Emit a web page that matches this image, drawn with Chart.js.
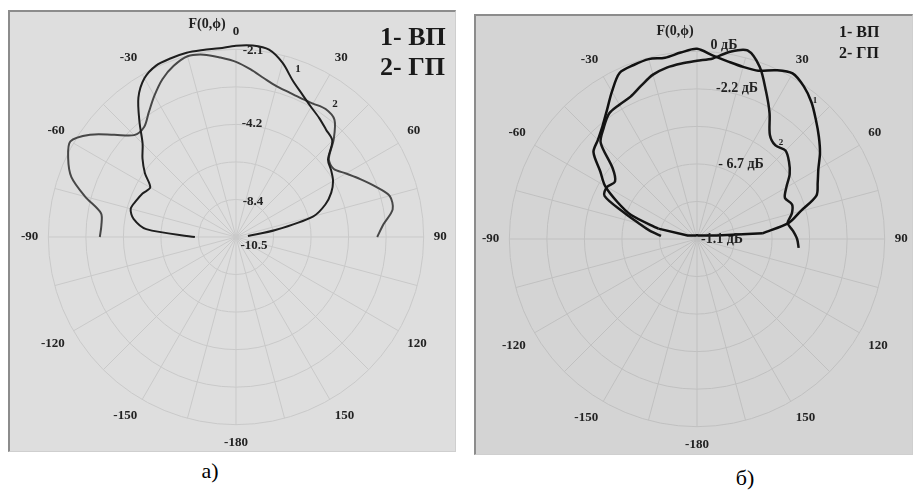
<!DOCTYPE html>
<html>
<head>
<meta charset="utf-8">
<script src="https://cdn.jsdelivr.net/npm/chart.js@4.4.1/dist/chart.umd.min.js"></script>
<style>
  body { margin: 0; width: 913px; height: 492px; background: #fff; position: relative; overflow: hidden; font-family: 'Liberation Serif', serif; }
  .panel { position: absolute; box-sizing: border-box; border-top: 2px solid #8c8c8c; border-left: 2px solid #8c8c8c; border-right: 1px solid #cfcfcf; border-bottom: 1px solid #cfcfcf; }
  #panelA { left: 8px; top: 10px; width: 448px; height: 442px; background: #dedede; }
  #panelB { left: 474px; top: 14px; width: 439px; height: 441px; background: #d4d4d4; }
  .box { position: absolute; width: 430px; height: 430px; }
  #boxA { left: 19px; top: 23px; }
  #boxB { left: 480px; top: 25px; }
  .t { position: absolute; transform: translate(-50%, -50%); white-space: nowrap; font-weight: bold; color: #222; font-size: 13px; line-height: 1; }
  .lg { position: absolute; transform: translateY(-50%); white-space: nowrap; font-weight: bold; color: #1a1a1a; line-height: 1; }
  .cap { position: absolute; transform: translate(-50%, -50%); font-size: 22px; color: #000; line-height: 1; }
</style>
</head>
<body>
<div class="panel" id="panelA"></div>
<div class="panel" id="panelB"></div>
<div class="box" id="boxA"><canvas id="chartA"></canvas></div>
<div class="box" id="boxB"><canvas id="chartB"></canvas></div>

<span class="t" style="left:207px;top:24px;font-size:14px">F(0,ϕ)</span>
<span class="t" style="left:253px;top:49px">-2.1</span>
<span class="t" style="left:252px;top:122px">-4.2</span>
<span class="t" style="left:253px;top:200px">-8.4</span>
<span class="t" style="left:254px;top:244px">-10.5</span>
<span class="t" style="left:298px;top:68px;font-size:11px">1</span>
<span class="t" style="left:335px;top:103px;font-size:11px">2</span>
<span class="lg" style="left:380px;top:37px;font-size:26px">1- ВП</span>
<span class="lg" style="left:380px;top:67px;font-size:26px">2- ГП</span>

<span class="t" style="left:675px;top:31px;font-size:14px">F(0,ϕ)</span>
<span class="t" style="left:724px;top:45px;font-size:14px">0 дБ</span>
<span class="t" style="left:737px;top:88px;font-size:14px">-2.2 дБ</span>
<span class="t" style="left:741px;top:164px;font-size:14px">- 6.7 дБ</span>
<span class="t" style="left:722px;top:239px;font-size:14px">-1.1 дБ</span>
<span class="t" style="left:815px;top:100px;font-size:9px">1</span>
<span class="t" style="left:781px;top:142px;font-size:9px">2</span>
<span class="lg" style="left:839px;top:32px;font-size:16px">1- ВП</span>
<span class="lg" style="left:839px;top:53px;font-size:16px">2- ГП</span>

<span class="cap" style="left:210px;top:471px">а)</span>
<span class="cap" style="left:745px;top:478px">б)</span>

<script>
const step = 5;
const rMin = -10.5;
const rMax = 0;
const rStep = 2.1;

// values in dB, one every 5 degrees, clockwise from the start angle
const a1Start = -90;
const a1 = [-8.20, -5.46, -4.68, -4.40, -4.56, -4.73, -4.96, -4.28, -3.67, -3.11,
  -2.10, -0.98, -0.25, 0.08, 0.14, 0.17, 0.12, 0.10, 0.20, 0.25,
  0.14, -0.42, -1.20, -1.71, -2.10, -2.38, -2.66, -2.88, -3.78, -4.00,
  -4.23, -4.62, -5.18, -6.02, -8.26, -9.83];
const a2Start = -90;
const a2 = [-2.88, -2.94, -2.83, -1.76, -0.70, -0.14, 0.20, -0.53, -1.60, -2.44,
  -2.49, -1.99, -1.37, -0.76, -0.31, -0.03, -0.14, -0.42, -0.70, -1.09,
  -1.48, -1.76, -1.88, -1.93, -1.88, -1.76, -1.93, -2.77, -3.72, -3.84,
  -3.39, -2.83, -2.21, -1.60, -1.60, -2.21, -2.60];

const b1Start = -75;
const b1 = [-8.26, -6.58, -5.57, -4.56, -3.89, -2.94, -2.66, -2.27, -1.71, -0.98,
  -0.25, -0.14, -0.08, -0.20, -0.03, 0.14, -0.20, -0.42, -0.53, -0.48,
  -0.08, 0.20, -0.08, -0.53, -1.09, -1.60, -2.10, -2.66, -3.05, -3.39,
  -4.51, -5.29, -6.80];
const b1LowStart = -75;
const b1Low = [-8.26, -9.94, -10.05, -10.11, -10.16, -10.19, -10.22, -10.25, -10.26, -10.28,
  -10.29, -10.29, -10.29, -10.29, -10.29, -10.29, -10.29, -10.29, -10.29, -10.29, -10.29,
  -10.28, -10.26, -10.25, -10.22, -10.19, -10.16, -10.11, -10.05, -9.94,
  -9.77, -9.38, -6.80];
const b2Start = -85;
const b2 = [-8.48, -7.81, -7.14, -6.13, -4.79, -4.68, -4.90, -4.34, -2.88, -2.38,
  -1.93, -1.82, -1.71, -1.37, -0.98, -0.76, -0.64, -0.53, -0.36, 0.14,
  0.42, -0.25, -1.37, -2.38, -3.39, -3.67, -3.50, -3.78, -4.17, -4.73,
  -5.07, -4.84, -5.01, -5.35, -5.12, -4.90, -4.79];

var labels = [];
for (let a = 0; a < 360; a += step) {
  labels.push(a <= 175 ? a : a - 360);
}

function place(start, values) {
  const n = labels.length;
  const out = new Array(n).fill(null);
  values.forEach(function (v, k) {
    const idx = (((start + k * step) / step) % n + n) % n;
    out[idx] = v;
  });
  return out;
}

function curve(start, values, color, width, tension) {
  return {
    data: place(start, values),
    borderColor: color,
    borderWidth: width,
    fill: false,
    spanGaps: false,
    tension: tension,
    pointRadius: 0,
    pointHoverRadius: 0
  };
}

function makeChart(id, datasets, showZero, gridColor) {
  return new Chart(document.getElementById(id), {
    type: 'radar',
    data: { labels: labels, datasets: datasets },
    options: {
      responsive: true,
      maintainAspectRatio: false,
      animation: false,
      events: [],
      plugins: { legend: { display: false }, tooltip: { enabled: false } },
      scales: {
        r: {
          min: rMin,
          max: rMax,
          ticks: { display: false, stepSize: rStep },
          grid: { circular: true, color: gridColor, lineWidth: 1 },
          angleLines: {
            color: gridColor,
            lineWidth: function (c) { return c.index % 3 === 0 ? 1 : 0; }
          },
          pointLabels: {
            padding: 10,
            color: '#222',
            font: { family: 'Liberation Serif', size: 13, weight: 'bold' },
            callback: function (label) {
              if (label % 30 !== 0) return '';
              if (label === 0 && !showZero) return '';
              return String(label);
            }
          }
        }
      }
    }
  });
}

makeChart('chartA', [
  curve(a1Start, a1, '#1e1e1e', 2, 0.3),
  curve(a2Start, a2, '#474747', 2, 0.3)
], true, '#c9c9c9');

makeChart('chartB', [
  curve(b1Start, b1, '#111111', 2.5, 0.3),
  curve(b1LowStart, b1Low, '#111111', 2.5, 0),
  curve(b2Start, b2, '#161616', 2.5, 0.3)
], false, '#c0c0c0');
</script>
</body>
</html>
